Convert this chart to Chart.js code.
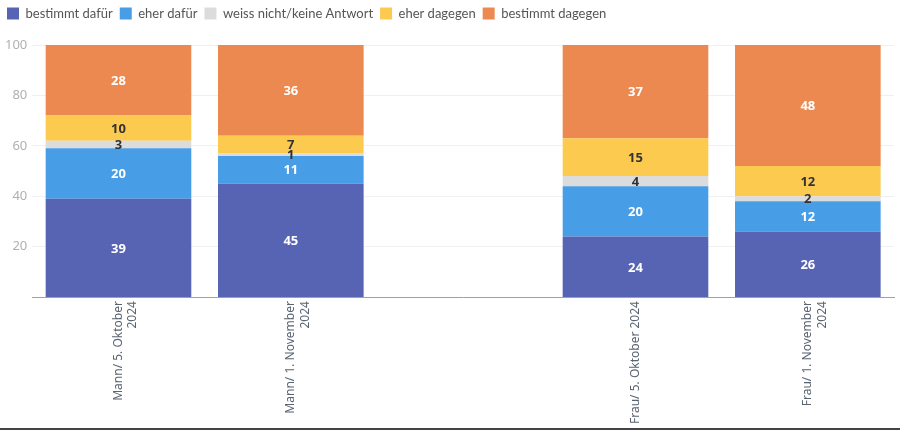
<!DOCTYPE html>
<html>
<head>
<meta charset="utf-8">
<script src="https://cdn.jsdelivr.net/npm/chart.js@4"></script>
<style>
  body { margin: 0; background: #fff; }
  #wrap { position: relative; width: 900px; height: 428px; border-bottom: 2px solid #444; }
</style>
</head>
<body>
<div id="wrap"><canvas id="chart"></canvas></div>
<script>
var categories = [["Mann/ 5. Oktober", "2024"], ["Mann/ 1. November", "2024"], "", "Frau/ 5. Oktober 2024", ["Frau/ 1. November", "2024"]];
var bestimmtDafuer = [39, 45, null, 24, 26];
var eherDafuer = [20, 11, null, 20, 12];
var weissNicht = [3, 1, null, 4, 2];
var eherDagegen = [10, 7, null, 15, 12];
var bestimmtDagegen = [28, 36, null, 37, 48];
var yTicks = [20, 40, 60, 80, 100];

var FONT = "'Noto Sans', 'Open Sans', sans-serif";

// draw the value inside each segment
var segmentLabels = {
  id: "segmentLabels",
  afterDatasetsDraw: function(chart) {
    var ctx = chart.ctx;
    ctx.save();
    ctx.font = "bold 13px " + FONT;
    ctx.textAlign = "center";
    ctx.textBaseline = "middle";
    chart.data.datasets.forEach(function(ds, i) {
      var meta = chart.getDatasetMeta(i);
      meta.data.forEach(function(bar, j) {
        var v = ds.data[j];
        if (v == null) return;
        var p = bar.getProps(["x", "y", "base"], true);
        ctx.fillStyle = ds.labelColor;
        ctx.fillText(v, p.x, (p.y + p.base) / 2 + 1);
      });
    });
    ctx.restore();
  }
};

// extra space under the legend
var legendSpace = {
  id: "legendSpace",
  beforeInit: function(chart) {
    var fit = chart.legend.fit;
    chart.legend.fit = function() {
      fit.bind(chart.legend)();
      this.height += 15;
    };
  }
};

new Chart(document.getElementById("chart"), {
  type: "bar",
  data: {
    labels: categories,
    datasets: [
      { label: "bestimmt dafür", data: bestimmtDafuer, backgroundColor: "#5664b3", labelColor: "#fff" },
      { label: "eher dafür", data: eherDafuer, backgroundColor: "#479de6", labelColor: "#fff" },
      { label: "weiss nicht/keine Antwort", data: weissNicht, backgroundColor: "#dcdcdc", labelColor: "#333" },
      { label: "eher dagegen", data: eherDagegen, backgroundColor: "#fdca50", labelColor: "#333" },
      { label: "bestimmt dagegen", data: bestimmtDagegen, backgroundColor: "#ec8950", labelColor: "#fff" }
    ]
  },
  options: {
    responsive: true,
    maintainAspectRatio: false,
    animation: false,
    layout: { padding: { left: 0, right: 6, top: 0, bottom: 0 } },
    datasets: { bar: { barPercentage: 0.845, categoryPercentage: 1 } },
    plugins: {
      legend: {
        position: "top",
        align: "start",
        labels: {
          boxWidth: 12,
          boxHeight: 12,
          padding: 7,
          color: "#555",
          font: { family: "Lato, " + FONT, size: 13 }
        }
      },
      tooltip: { enabled: false }
    },
    scales: {
      x: {
        stacked: true,
        grid: { display: false, drawTicks: false },
        border: { display: true, color: "#9aa3ad", width: 1 },
        ticks: {
          autoSkip: false,
          minRotation: 90,
          maxRotation: 90,
          padding: 4,
          color: "#5a6572",
          font: { family: FONT, size: 12 }
        }
      },
      y: {
        stacked: true,
        min: 0,
        max: 100,
        afterBuildTicks: function(axis) {
          axis.ticks = yTicks.map(function(v) { return { value: v }; });
        },
        grid: { color: "#f0f0f0", drawTicks: false },
        border: { display: false },
        ticks: {
          padding: 5,
          color: "#b0b0b0",
          font: { family: FONT, size: 13 }
        }
      }
    }
  },
  plugins: [segmentLabels, legendSpace]
});
</script>
</body>
</html>
